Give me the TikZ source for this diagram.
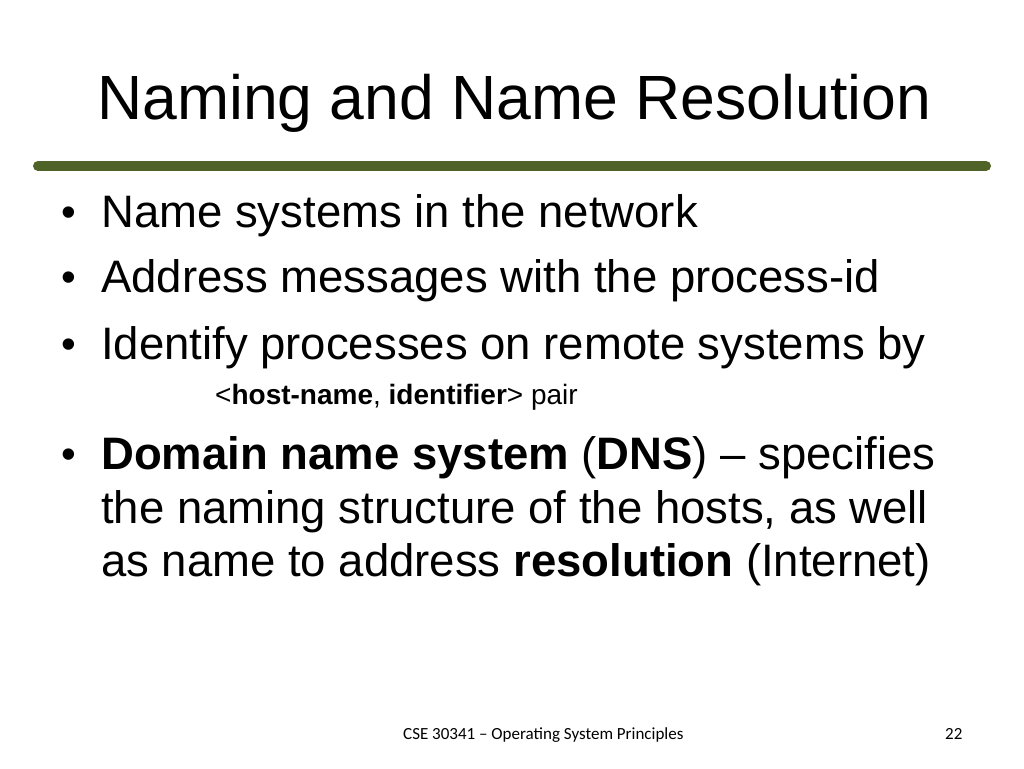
\documentclass[tikz,border=0pt]{standalone}
\usepackage{fontspec}
\setmainfont[Ligatures=TeX]{Liberation Sans}
\newfontfamily\footfont[Ligatures=TeX]{Carlito}
\definecolor{barolive}{RGB}{79,98,40}
\tikzset{
  titletext/.style={anchor=base west, inner sep=0pt, font=\fontsize{62.5}{62.5}\selectfont},
  bullettext/.style={anchor=base west, inner sep=0pt, font=\fontsize{45.5}{45.5}\selectfont},
  dottext/.style={anchor=base west, inner sep=0pt, font=\fontsize{42}{42}\selectfont},
  subtext/.style={anchor=base west, inner sep=0pt, font=\fontsize{28}{28}\selectfont},
  foottext/.style={anchor=base west, inner sep=0pt, font=\footfont\fontsize{17}{17}\selectfont}
}
\begin{document}
\begin{tikzpicture}[x=1pt,y=1pt]
			%%%%% FRAME %%%%%
			\useasboundingbox[fill=white] (0, 0) rectangle (1024, 768);
			
			\node[titletext] (title) at (97, 648) {Naming and Name Resolution};
			\draw[line width=10pt, color=barolive, line cap=round] (38, 602) -- (986, 602);
			
			%%%%% BULLETS %%%%%
			\node[dottext] (dot1) at (61, 541) {\textbullet};
			\node[bullettext] (line1) at (101, 540) {Name systems in the network};
			\node[dottext] (dot2) at (61, 476) {\textbullet};
			\node[bullettext] (line2) at (101, 475) {Address messages with the process-id};
			\node[dottext] (dot3) at (61, 409) {\textbullet};
			\node[bullettext] (line3) at (101, 408) {Identify processes on remote systems by};
			\node[subtext] (line3b) at (215, 363) {<\textbf{host-name}, \textbf{identifier}> pair};
			
			\node[dottext] (dot4) at (61, 299) {\textbullet};
			\node[bullettext] (line4) at (101, 298) {\textbf{Domain name system} (\textbf{DNS}) -- specifies};
			\node[bullettext] (line5) at (101, 244) {the naming structure of the hosts, as well};
			\node[bullettext] (line6) at (101, 191) {as name to address \textbf{resolution} (Internet)};
			
			%%%%% FOOTER %%%%%
			\node[foottext] (course) at (403, 29) {CSE 30341 -- Operating System Principles};
			\node[foottext] (page) at (945, 29) {22};
\end{tikzpicture}
\end{document}
